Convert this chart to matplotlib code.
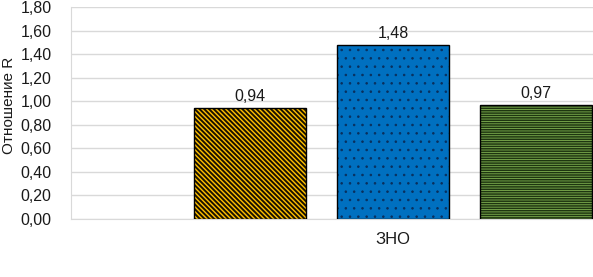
import matplotlib
matplotlib.use("Agg")
import matplotlib.pyplot as plt
from matplotlib import font_manager as fm
import numpy as np

fam = 'Liberation Sans'
for f in fm.findSystemFonts():
    if f.endswith('LiberationSans-Regular.ttf'):
        fm.fontManager.addfont(f)
        fam = fm.FontProperties(fname=f).get_name()
        break
plt.rcParams['font.family'] = [fam, 'DejaVu Sans']

category = "ЗНО"
values = [0.94, 1.48, 0.97]
labels = ["0,94", "1,48", "0,97"]
faces = ["#FFC000", "#0070C0", "#7FB050"]
hatches = ["\\" * 7, "..", "-" * 7]
hatch_colors = ["#1A1200", "#0A2F5C", "#1E3510"]
hatch_lw = [1.4, 0.6, 1.1]
yticks = [0.0, 0.2, 0.4, 0.6, 0.8, 1.0, 1.2, 1.4, 1.6, 1.8]

fig = plt.figure(figsize=(5.93, 2.77), dpi=100)
ax = fig.add_axes([71/593, 1-219/277, 1-71/593, (219-7)/277])

offsets = np.array([-1, 0, 1])
width = 112/143
for off, v, fc, h, hc, hl, lab in zip(offsets, values, faces, hatches, hatch_colors, hatch_lw, labels):
    b = ax.bar(off, v, width=width, color=fc, hatch=h, edgecolor=hc, linewidth=0, zorder=2)
    for p in b:
        try:
            p.set_hatch_linewidth(hl)
        except Exception:
            pass
    ax.bar(off, v, width=width, fill=False, edgecolor="black", linewidth=1.0, zorder=3)
    ax.annotate(lab, (off, v), xytext=(0, 3), textcoords="offset points",
                ha="center", va="bottom", fontsize=11.5, color="#1a1a1a")

ax.set_xlim((71-393)/143, (593-393)/143)
ax.set_ylim(0, 1.8)
ax.set_yticks(yticks)
ax.set_yticklabels([f"{t:.2f}".replace(".", ",") for t in yticks], fontsize=11.5, color="#1a1a1a")
ax.set_xticks([0])
ax.set_xticklabels([category], fontsize=12, color="#1a1a1a")
ax.tick_params(axis="y", length=0, pad=14)
ax.tick_params(axis="x", length=0, pad=9)
ax.yaxis.grid(True, color="#D9D9D9", linewidth=1.0, zorder=0)
ax.set_axisbelow(True)
for s in ["top", "right"]:
    ax.spines[s].set_visible(False)
ax.spines["left"].set_color("#D9D9D9")
ax.spines["bottom"].set_color("#D9D9D9")
fig.text(9/593, 1-105/277, "Отношение R", rotation=90, ha="center", va="center",
         fontsize=11, color="#1a1a1a")

fig.savefig("out.png", dpi=100)
